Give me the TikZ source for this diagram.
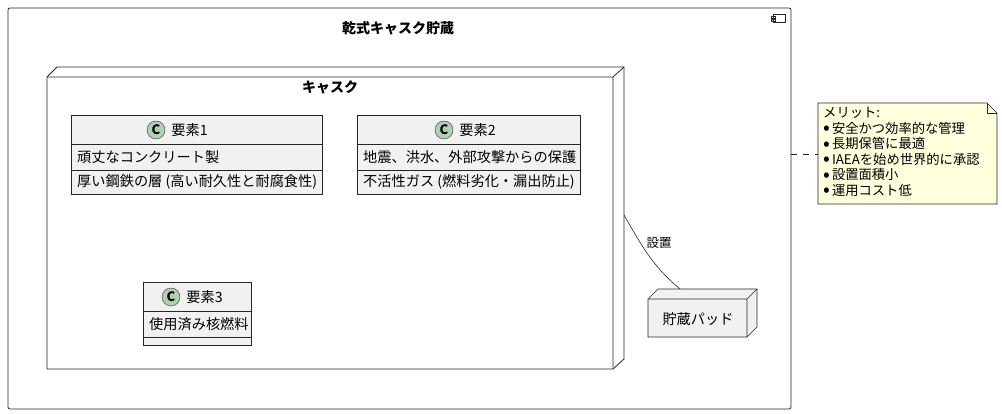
\documentclass[tikz,border=0pt]{standalone}
\usepackage{fontspec}
\setmainfont{Noto Sans CJK JP}
\usetikzlibrary{positioning}
\definecolor{classbg}{RGB}{241,241,241}
\definecolor{circlebg}{RGB}{173,209,178}
\definecolor{notebg}{RGB}{254,255,221}
\newcommand{\pt}{\smash{\raisebox{-1.5pt}{\fontsize{20}{16}\selectfont•}}\hspace{2pt}}
\tikzset{
  frame/.style={draw=black!85, line width=0.8pt},
  txt/.style={inner sep=0pt, font=\fontsize{14.2}{16}\selectfont},
  bold/.style={txt, font=\fontsize{14}{16}\selectfont\bfseries},
  cls/.style={circle, draw=black!80, fill=circlebg, minimum size=18pt, inner sep=0pt, font=\fontsize{13}{13}\selectfont\bfseries}
}
\begin{document}
\begin{tikzpicture}[x=1pt,y=-1pt]
  \useasboundingbox (0,0) rectangle (1002,414);

  % Outer component
  \draw[frame, rounded corners=2pt] (8,8) rectangle (791,409);
  \draw[frame, line width=0.6pt] (773,14) rectangle (785,22);
  \draw[frame, line width=0.6pt] (771,16) rectangle (775,18) (771,19) rectangle (775,21);
  \node[bold] (store) at (398,28) {乾式キャスク貯蔵};

  % Cask node
  \draw[frame, fill=white] (47,77) -- (57,67) -- (624,67) -- (624,359) -- (613,369) -- (47,369) -- cycle;
  \draw[frame] (47,77) -- (613,77) -- (613,369) (613,77) -- (624,67);
  \node[bold] (cask) at (330,87) {キャスク};

  % Element 1
  \draw[frame, fill=classbg, line width=0.6pt] (71,115) rectangle (322,194);
  \draw[frame, line width=0.6pt] (71,144) -- (322,144) (71,170) -- (322,170);
  \node[cls] (c1) at (156,130) {C};
  \node[txt, right=6pt of c1] (e1) {要素1};
  \node[txt, anchor=west] (e1a) at (77,157) {頑丈なコンクリート製};
  \node[txt, anchor=west] (e1b) at (77,182) {厚い鋼鉄の層 (高い耐久性と耐腐食性)};

  % Element 2
  \draw[frame, fill=classbg, line width=0.6pt] (357,115) rectangle (580,194);
  \draw[frame, line width=0.6pt] (357,144) -- (580,144) (357,170) -- (580,170);
  \node[cls] (c2) at (444,130) {C};
  \node[txt, right=6pt of c2] (e2) {要素2};
  \node[txt, anchor=west] (e2a) at (363,157) {地震、洪水、外部攻撃からの保護};
  \node[txt, anchor=west] (e2b) at (363,182) {不活性ガス (燃料劣化・漏出防止)};

  % Element 3
  \draw[frame, fill=classbg, line width=0.6pt] (143,282) rectangle (251,345);
  \draw[frame, line width=0.6pt] (143,311) -- (251,311) (143,337) -- (251,337);
  \node[cls] (c3) at (171,297) {C};
  \node[txt, right=6pt of c3] (e3) {要素3};
  \node[txt, anchor=west] (e3a) at (149,324) {使用済み核燃料};

  % Storage pad
  \draw[frame, fill=classbg, line width=0.6pt] (648,299) -- (658,289) -- (757,289) -- (757,327) -- (747,337) -- (648,337) -- cycle;
  \draw[frame, line width=0.6pt] (648,299) -- (747,299) -- (747,337) (747,299) -- (757,289);
  \node[txt] (pad) at (698,319) {貯蔵パッド};
  \coordinate (caskside) at (624,215);
  \coordinate (padtop) at (680,289);
  \draw[frame, line width=0.6pt] (caskside) to[out=-60, in=140] (padtop);
  \node[txt, font=\fontsize{12.5}{14}\selectfont] (place) at (659,243) {設置};

  % Note
  \draw[frame, fill=notebg, line width=0.6pt] (818,103) -- (987,103) -- (997,113) -- (997,204) -- (818,204) -- cycle;
  \draw[frame, line width=0.6pt] (987,103) -- (987,113) -- (997,113);
  \node[txt, anchor=north west, align=left, font=\fontsize{13.3}{15.6}\selectfont] (note) at (823,107)
    {メリット:\\\pt 安全かつ効率的な管理\\\pt 長期保管に最適\\\pt IAEAを始め世界的に承認\\\pt 設置面積小\\\pt 運用コスト低};
  \coordinate (storeside) at (791,154);
  \coordinate (noteside) at (818,154);
  \draw[frame, line width=0.6pt, dash pattern=on 6pt off 6pt] (storeside) -- (noteside);
\end{tikzpicture}
\end{document}
